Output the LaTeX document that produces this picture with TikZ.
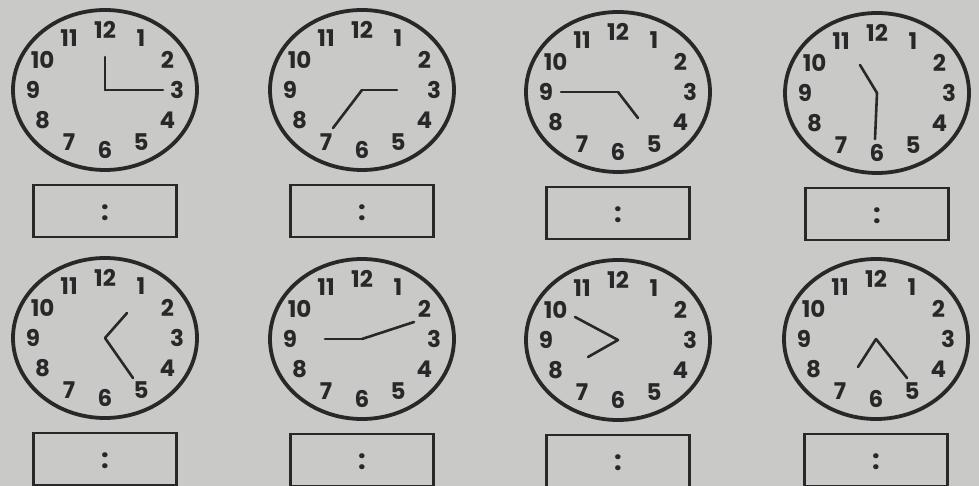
\documentclass[tikz,border=0pt]{standalone}
\usepackage{fontspec}
\newfontfamily\clockfont{Poppins}
\usetikzlibrary{positioning, calc}
\definecolor{paper}{RGB}{201,201,199}
\definecolor{ink}{RGB}{40,40,40}
\tikzset{
  face/.style    = {draw=ink, line width=3.8pt},
  hand/.style    = {draw=ink, line width=2.6pt, line cap=round},
  numeral/.style = {font=\clockfont\bfseries\fontsize{23}{23}\selectfont,
                    text=ink, inner sep=0pt},
  answer/.style  = {draw=ink, line width=2.6pt, minimum width=143pt,
                    minimum height=52pt, inner sep=0pt},
  colon/.style   = {font=\clockfont\bfseries\fontsize{27}{27}\selectfont,
                    text=ink, inner sep=0pt}
}

\begin{document}
\begin{tikzpicture}[x=1pt, y=-1pt]
% ---- page ----
\fill[paper] (0,0) rectangle (979,486);
\useasboundingbox (0,0) rectangle (979,486);

% ---- Clocks: centre, short hand end, long hand end (offsets in px) ----
\foreach \k/\cx/\cy/\sx/\sy/\lx/\ly in {%
  1/105/90/0/-33/58/0,
  2/362/90/35/0/-29/38,
  3/618/92/20/26/-57/0,
  4/877/93/-17/-28/-2/46,
  5/105/338/22/-25/28/40,
  6/362/339/-37/0/52/-17,
  7/618/340/-30/17/-43/-23,
  8/876/339/-18/28/31/39} {
  \coordinate (c\k) at (\cx,\cy);
  \draw[face] (c\k) ellipse [x radius=92, y radius=80];
  \foreach \n in {1,...,12}
    \node[numeral] (n\k-\n) at ($(c\k)+({72*sin(30*\n)},{-60*cos(30*\n)})$) {\n};
  \coordinate (s\k) at ($(c\k)+(\sx,\sy)$);
  \coordinate (l\k) at ($(c\k)+(\lx,\ly)$);
  \draw[hand] (c\k) -- (s\k);
  \draw[hand] (c\k) -- (l\k);
  % answer box
  \node[answer] (box\k) at ($(c\k)+(0,121)$) {};
  \node[colon] (dots\k) at ($(box\k)+(0,2)$) {:};
}
\end{tikzpicture}
\end{document}
